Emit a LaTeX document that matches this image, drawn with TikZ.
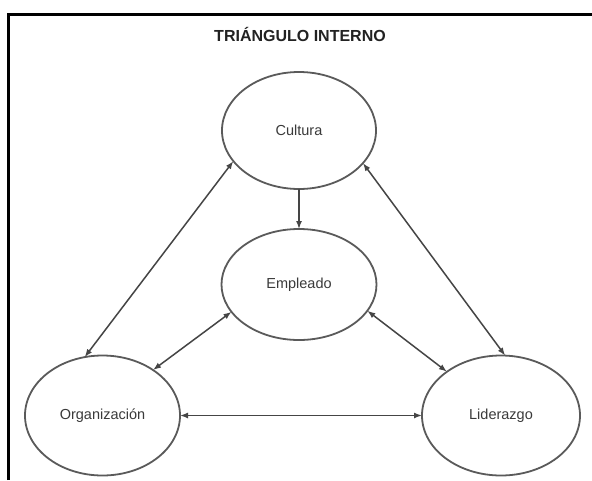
\documentclass[tikz,border=0pt]{standalone}
\usepackage{fontspec}
\setmainfont{Liberation Sans}
\usetikzlibrary{shapes.geometric,arrows.meta}
\definecolor{edgegray}{HTML}{5A5A5A}
\definecolor{linegray}{HTML}{454545}
\definecolor{txtgray}{HTML}{3A3A3A}
\definecolor{titlegray}{HTML}{222222}
\tikzset{
  oval/.style={ellipse, draw=edgegray, line width=1.8pt, inner sep=0pt, outer sep=0pt,
    text=txtgray, font=\fontsize{14.5}{17}\selectfont},
  link/.style={draw=linegray, line width=1.5pt, {Latex[length=8pt,width=6pt]}-{Latex[length=8pt,width=6pt]}},
  onelink/.style={draw=linegray, line width=1.5pt, -{Latex[length=8pt,width=6pt]}},
  frameline/.style={draw=black, line width=2.6pt}
}
\begin{document}
\begin{tikzpicture}[x=1pt,y=-1pt]
\useasboundingbox (0,0) rectangle (592,480);
\fill[white] (0,0) rectangle (592,480);
\coordinate (fa) at (8.6,480);
\coordinate (fb) at (8.6,14.3);
\coordinate (fc) at (592,14.3);
\draw[frameline] (fa) -- (fb) -- (fc);
\node[font=\bfseries\fontsize{16}{19}\selectfont, text=titlegray] (title) at (300,34) {TRIÁNGULO INTERNO};
\node[oval, minimum width=154pt, minimum height=117pt] (cul) at (299,130.5) {Cultura};
\node[oval, minimum width=155pt, minimum height=111pt] (emp) at (299,284.5) {Empleado};
\node[oval, minimum width=155pt, minimum height=120pt] (org) at (102.5,415.5) {Organización};
\node[oval, minimum width=158pt, minimum height=120pt] (lid) at (501,415.5) {Liderazgo};
\draw[onelink] (cul.south) -- (emp.north);
\draw[link] (cul.205.6) -- (org.107.2);
\draw[link] (cul.333.4) -- (lid.86.2);
\draw[link] (emp.202.8) -- (org.42);
\draw[link] (emp.339) -- (lid.141.3);
\draw[link] (org.east) -- (lid.west);
\end{tikzpicture}
\end{document}
